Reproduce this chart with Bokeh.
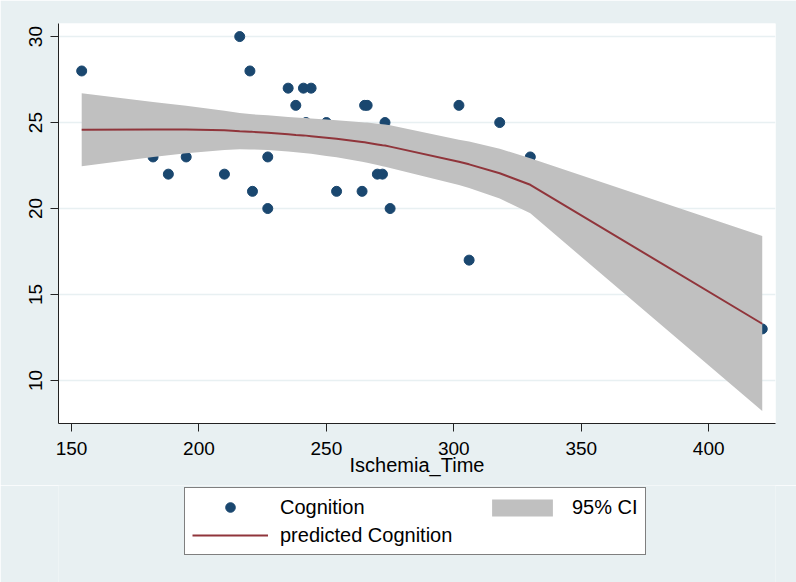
from bokeh.plotting import figure
from bokeh.layouts import column
from bokeh.models import Legend, LegendItem, FixedTicker, Range1d
from bokeh.embed import file_html
from bokeh.resources import INLINE

# ---- data ----
ischemia = [154, 182, 188, 195, 210, 216, 220, 221, 227, 227, 235, 238, 241, 242, 244,
            250, 254, 264, 265, 266, 270, 272, 273, 275, 302, 306, 318, 330, 421]
cognition = [28, 23, 22, 23, 22, 30, 28, 21, 23, 20, 27, 26, 27, 25, 27,
             25, 21, 21, 26, 26, 22, 22, 25, 20, 26, 17, 25, 23, 13]

fit_x = [154, 182, 188, 195, 210, 216, 220, 221, 227, 235, 238, 241, 242, 244,
         250, 254, 264, 265, 266, 270, 272, 273, 275, 302, 306, 318, 330, 421]
fit_y = [24.58, 24.60, 24.60, 24.60, 24.55, 24.50, 24.47, 24.46, 24.41, 24.32, 24.28, 24.25, 24.24, 24.21,
         24.12, 24.06, 23.87, 23.85, 23.83, 23.73, 23.68, 23.66, 23.60, 22.72, 22.57, 22.05, 21.38, 13.30]
ci_upper = [26.70, 26.20, 26.10, 25.98, 25.69, 25.55, 25.50, 25.48, 25.42, 25.33, 25.29, 25.27, 25.26, 25.24,
            25.18, 25.14, 25.02, 25.01, 25.00, 24.93, 24.90, 24.89, 24.84, 24.00, 23.90, 23.48, 22.92, 18.40]
ci_lower = [22.46, 23.00, 23.10, 23.22, 23.41, 23.45, 23.44, 23.44, 23.40, 23.31, 23.27, 23.23, 23.22, 23.18,
            23.06, 22.98, 22.72, 22.69, 22.66, 22.53, 22.46, 22.43, 22.36, 21.37, 21.20, 20.58, 19.72, 8.22]

x_ticks = [150, 200, 250, 300, 350, 400]
y_ticks = [10, 15, 20, 25, 30]

# ---- styles ----
BG = "#E8F0F2"
NAVY = "#1A476F"
MAROON = "#90353B"
BAND = "#C0C0C0"
FONT = "Liberation Sans"


def add_series(fig):
    sc = fig.scatter(ischemia, cognition, size=10, fill_color=NAVY, line_color=NAVY)
    band = fig.varea(x=fit_x, y1=ci_lower, y2=ci_upper, fill_color=BAND, fill_alpha=1.0)
    ln = fig.line(fit_x, fit_y, line_color=MAROON, line_width=2)
    return sc, band, ln


# ---- main plot ----
p = figure(width=796, height=485, output_backend="svg", toolbar_location=None,
           x_range=Range1d(144.9, 426.2), y_range=Range1d(7.5, 30.76),
           min_border_left=58, min_border_right=21, min_border_top=23, min_border_bottom=62)
p.border_fill_color = BG
p.background_fill_color = "white"
p.outline_line_color = None

add_series(p)

p.xgrid.visible = False
p.ygrid.grid_line_color = BG
p.ygrid.grid_line_width = 1.3
p.ygrid.ticker = FixedTicker(ticks=y_ticks)

for ax in (p.xaxis[0], p.yaxis[0]):
    ax.axis_line_color = "#222222"
    ax.axis_line_width = 1
    ax.major_tick_line_color = "#222222"
    ax.major_tick_out = 8
    ax.major_tick_in = 0
    ax.minor_tick_line_color = None
    ax.major_label_text_font = FONT
    ax.major_label_text_font_size = "19px"
    ax.major_label_text_color = "black"

p.xaxis.ticker = FixedTicker(ticks=x_ticks)
p.xaxis.major_label_standoff = 10
p.xaxis.axis_label = "Ischemia_Time"
p.xaxis.axis_label_text_font = FONT
p.xaxis.axis_label_text_font_size = "20px"
p.xaxis.axis_label_text_font_style = "normal"
p.xaxis.axis_label_text_color = "black"
p.xaxis.axis_label_standoff = -4

p.yaxis.ticker = FixedTicker(ticks=y_ticks)
p.yaxis.major_label_orientation = "vertical"
p.yaxis.major_label_standoff = 8

# ---- legend strip below the plot (its series lie outside its empty view) ----
lg = figure(width=796, height=97, output_backend="svg", toolbar_location=None,
            x_range=Range1d(0, 1), y_range=Range1d(0, 1),
            x_axis_type=None, y_axis_type=None,
            min_border_left=0, min_border_right=0, min_border_top=0, min_border_bottom=0)
lg.border_fill_color = BG
lg.background_fill_color = BG
lg.outline_line_color = None
lg.grid.visible = False

key_sc, key_band, key_ln = add_series(lg)

common = dict(margin=0, label_standoff=12, glyph_width=76,
              label_text_font=FONT, label_text_font_size="20px", label_text_color="black")
legA = Legend(items=[LegendItem(label="Cognition", renderers=[key_sc]),
                     LegendItem(label="predicted Cognition", renderers=[key_ln])],
              location=(126, 27), padding=7, spacing=4,
              glyph_height=24, label_height=24, label_width=358,
              border_line_color="black", border_line_width=1,
              background_fill_color="white", background_fill_alpha=1.0, **common)
legB = Legend(items=[LegendItem(label="95% CI", renderers=[key_band])],
              location=(426, 63), padding=0, spacing=0,
              glyph_height=21, label_height=21,
              border_line_alpha=0, background_fill_alpha=0, **common)
lg.add_layout(legA)
lg.add_layout(legB)

page = column(p, lg, spacing=0)
open("out.html", "w").write(file_html(page, INLINE))
